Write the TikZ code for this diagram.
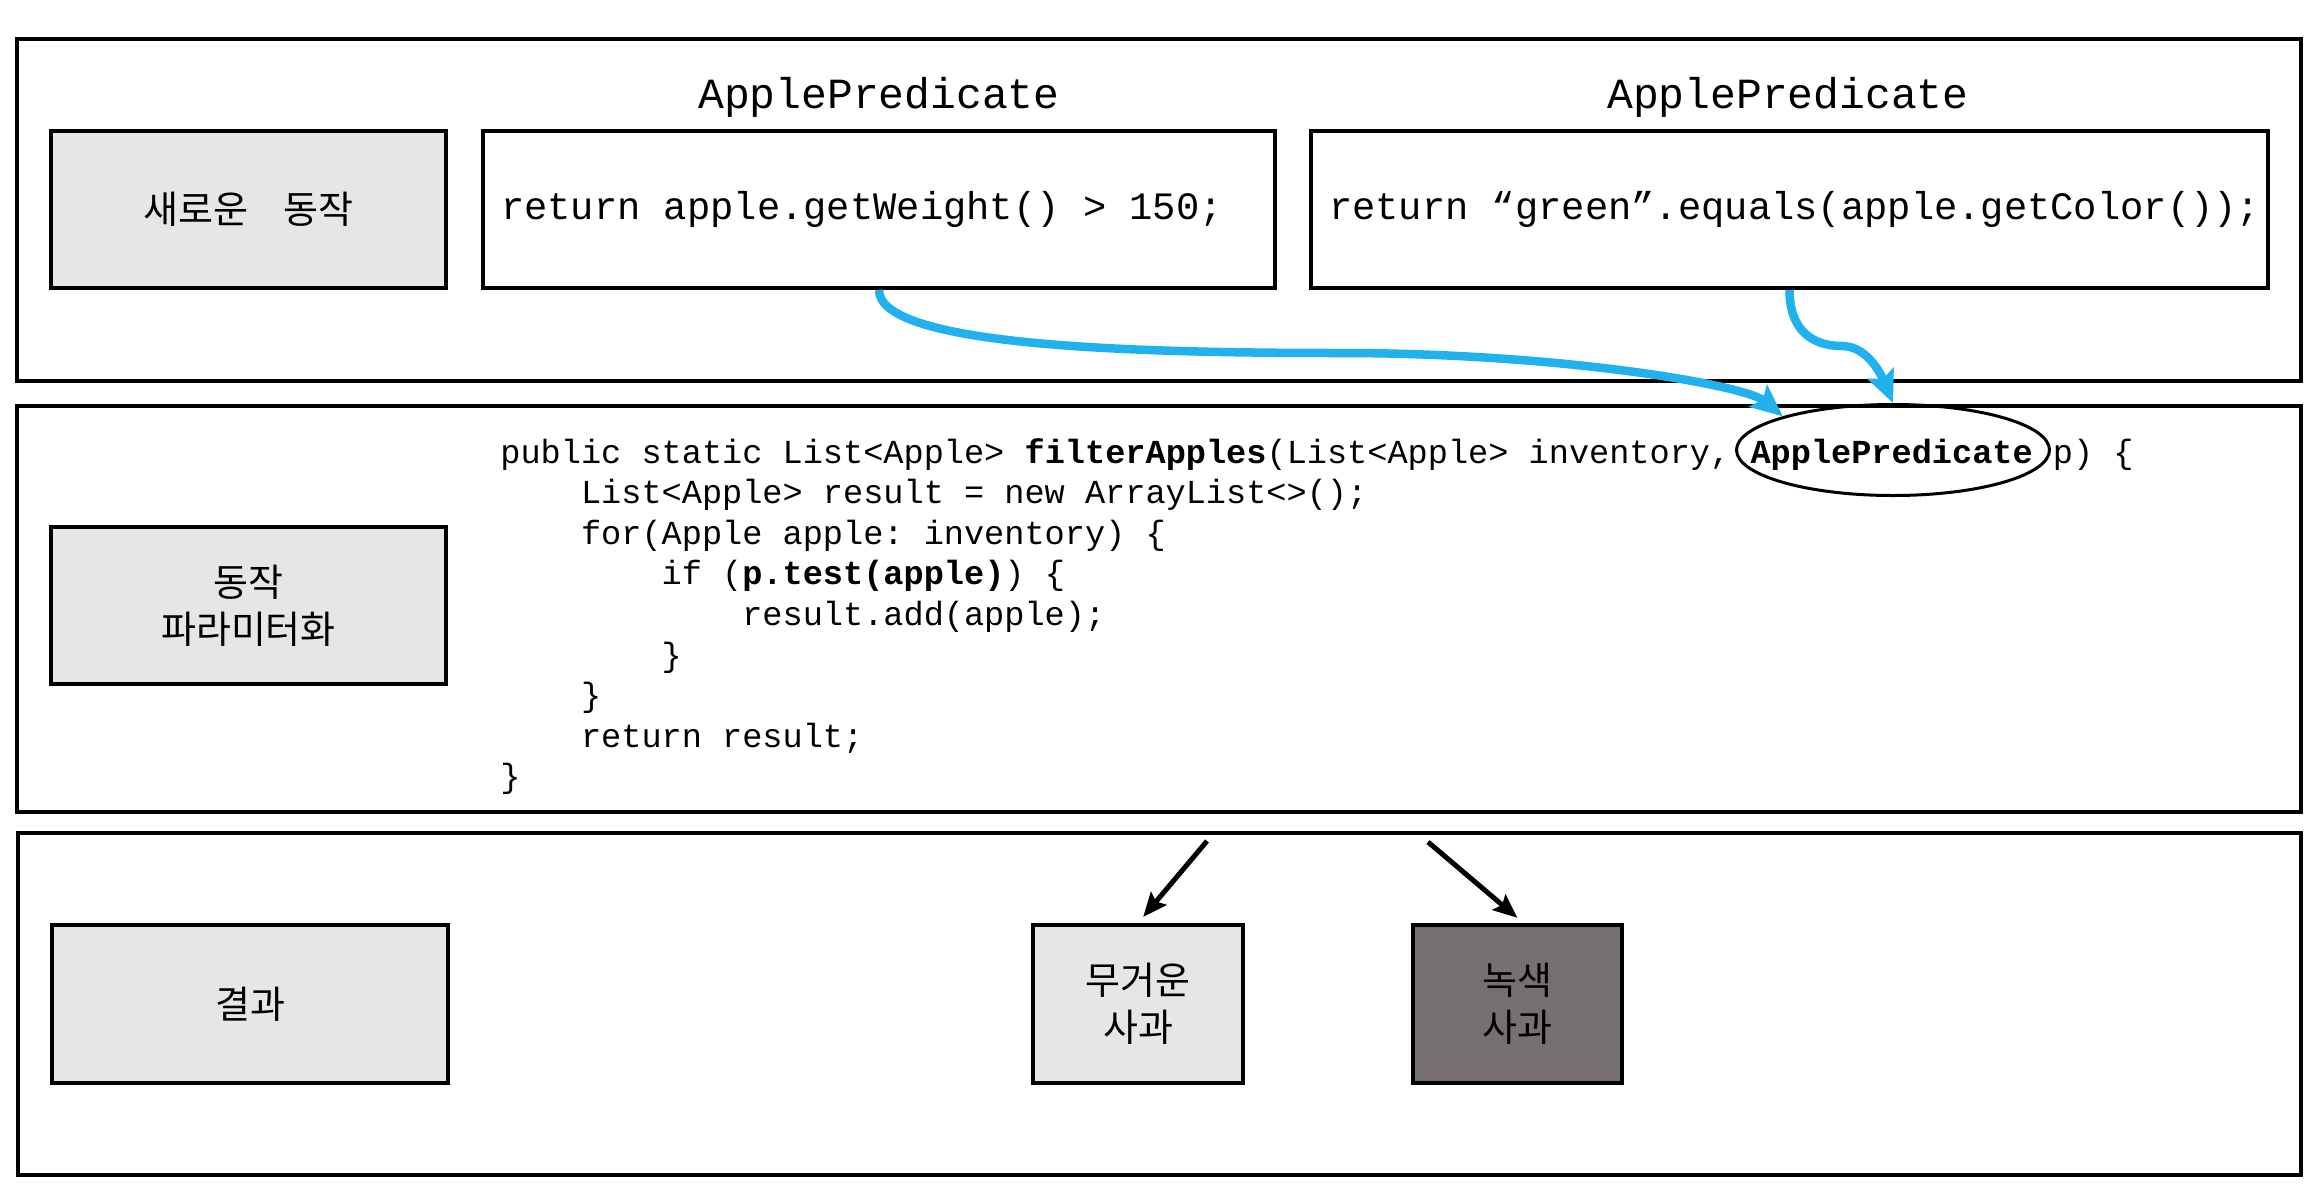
\documentclass[tikz,border=0pt]{standalone}
\usepackage{fontspec}
\setmainfont{Noto Sans CJK KR}
\newfontfamily\codefont{Liberation Mono}
\usetikzlibrary{arrows.meta,shapes.geometric}
\definecolor{lgray}{HTML}{E6E6E6}
\definecolor{dgray}{HTML}{767170}
\definecolor{arrowblue}{RGB}{33,177,236}
\newcommand\ind{\hspace*{2.4em}}
\frenchspacing
\begin{document}
\begin{tikzpicture}[x=0.5pt,y=-0.5pt,
  panel/.style={draw=black,line width=2pt},
  lbox/.style={draw=black,line width=2pt,fill=lgray,inner sep=0pt,align=center,
    font=\fontsize{19pt}{23.5pt}\selectfont},
  dbox/.style={lbox,fill=dgray},
  codebox/.style={draw=black,line width=2pt,fill=white,inner xsep=9pt,inner ysep=0pt,
    minimum height=78.5pt,font=\codefont\fontsize{19.4pt}{23pt}\selectfont\frenchspacing},
  title/.style={inner sep=0pt,font=\codefont\fontsize{21.5pt}{25pt}\selectfont},
  code/.style={inner sep=0pt,align=left,font=\codefont\fontsize{16.8pt}{20.3pt}\selectfont\frenchspacing},
  oval/.style={draw=black,ellipse,line width=1.5pt,inner sep=0pt,minimum width=156.5pt,minimum height=45.5pt},
  bluearrow/.style={draw=arrowblue,line width=4.25pt,-{Stealth[length=16pt,width=14pt,inset=3pt]}},
  blackarrow/.style={draw=black,line width=2.5pt,-{Stealth[length=12pt,width=10pt,inset=2pt]},shorten >=4pt}
]
\useasboundingbox (0,0) rectangle (2320,1200);
\fill[white] (0,0) rectangle (2320,1200);

% panels
\draw[panel] (16.5,38.5) rectangle (2300.5,380.5);
\draw[panel] (16.5,405.5) rectangle (2300.5,811.5);
\draw[panel] (18,832.7) rectangle (2300.5,1174.5);

% top panel
\node[lbox,minimum width=197.5pt,minimum height=78.5pt] (new) at (248.5,209.5) {새로운 \hspace{0.7em}동작};
\node[codebox] (c1) at (879,209.5) {\makebox[378pt][l]{return apple.getWeight() > 150;}};
\node[codebox] (c2) at (1789.5,209.5) {\makebox[460.5pt][l]{return “green”.equals(apple.getColor());}};
\node[title,anchor=base] (t1) at (879,108) {ApplePredicate};
\node[title,anchor=base] (t2) at (1788,108) {ApplePredicate};

% middle panel
\node[lbox,minimum width=197.5pt,minimum height=78.5pt] (param) at (248.5,605.5) {동작\\파라미터화};
\node[code,anchor=base west] (code) at (500,787.8) {public static List<Apple> \textbf{filterApples}(List<Apple> inventory, \textbf{ApplePredicate} p) \{\\
\ind List<Apple> result = new ArrayList<>();\\
\ind for(Apple apple: inventory) \{\\
\ind\ind if (\textbf{p.test(apple)}) \{\\
\ind\ind\ind result.add(apple);\\
\ind\ind \}\\
\ind \}\\
\ind return result;\\
\}};
\node[oval] (ap) at (1893,450) {};

% bottom panel
\node[lbox,minimum width=198pt,minimum height=79pt] (res) at (250,1004) {결과};
\node[lbox,minimum width=105pt,minimum height=79pt] (heavy) at (1138,1004) {무거운\\사과};
\node[dbox,minimum width=104.5pt,minimum height=79pt] (green) at (1517.5,1004) {녹색\\사과};

% blue connectors
\draw[bluearrow] (c1.south) .. controls (879,345) and (1120,353) .. (1340,353)
  .. controls (1560,353) and (1745,385) .. (ap.163);
\draw[bluearrow] (c2.south) .. controls (1789.5,330) and (1812,346) .. (1842,346)
  .. controls (1866,346) and (1880,372) .. (ap.north);

% black connectors
\coordinate (s1) at (1207,841);
\coordinate (s2) at (1428,842);
\draw[blackarrow] (s1) -- (heavy.north);
\draw[blackarrow] (s2) -- ([xshift=3pt]green.north);
\end{tikzpicture}
\end{document}
